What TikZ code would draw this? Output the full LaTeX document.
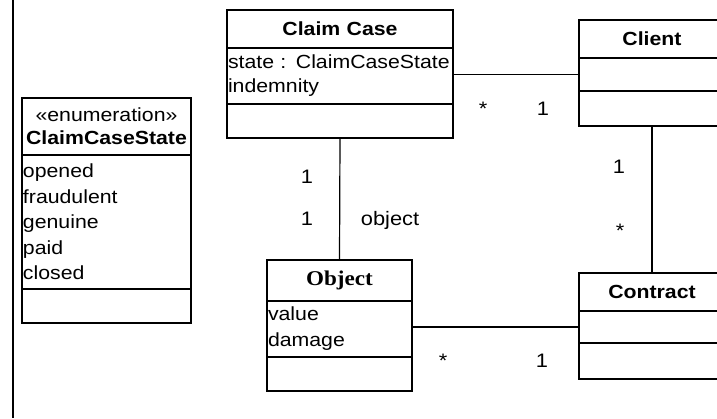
\documentclass[tikz,border=0pt]{standalone}
\usepackage{fontspec}
\setmainfont{Liberation Sans}[FakeStretch=1.12]
\newfontfamily\objfont{Liberation Serif}[FakeStretch=1.1]
\usetikzlibrary{positioning}

\begin{document}
\begin{tikzpicture}[x=1pt,y=-1pt,line width=1.2pt,
  box/.style={draw,outer sep=0pt,inner sep=1pt,anchor=north west},
  hdr/.style={box,font=\fontsize{19}{23}\selectfont\bfseries,align=center},
  attr/.style={box,font=\fontsize{19}{24}\selectfont,align=left},
  mult/.style={anchor=base,inner sep=0pt,font=\fontsize{19.5}{22}\selectfont}]
\useasboundingbox (0,0) rectangle (717,418);
\clip (0,0) rectangle (717,418);
\draw (13,0) -- (13,418);
% enumeration
\node[hdr,text width=167pt,minimum height=57pt] (stateH) at (22,98) {{\mdseries «enumeration»}\\ClaimCaseState};
\node[attr,text width=167pt,minimum height=134pt,font=\fontsize{19}{25.5}\selectfont] (stateA) at (stateH.south west) {opened\\fraudulent\\genuine\\paid\\closed};
\node[box,text width=167pt,minimum height=34pt] (stateO) at (stateA.south west) {};
% claim case
\node[hdr,text width=224pt,minimum height=38pt] (caseH) at (227,10) {Claim Case};
\node[attr,text width=224pt,minimum height=56pt] (caseA) at (caseH.south west) {state : ClaimCaseState\\indemnity};
\node[box,text width=224pt,minimum height=34pt] (caseO) at (caseA.south west) {};
% client
\node[hdr,text width=144pt,minimum height=38pt] (clientH) at (579,20) {Client};
\node[box,text width=144pt,minimum height=33pt] (clientA) at (clientH.south west) {};
\node[box,text width=144pt,minimum height=35pt] (clientO) at (clientA.south west) {};
% object
\node[hdr,text width=143pt,minimum height=41pt,font=\fontsize{21}{24}\selectfont\objfont\bfseries] (objH) at (267,260) {Object};
\node[attr,text width=143pt,minimum height=56pt,font=\fontsize{19}{26}\selectfont] (objA) at (objH.south west) {value\\damage};
\node[box,text width=143pt,minimum height=34pt] (objO) at (objA.south west) {};
% contract
\node[hdr,text width=144pt,minimum height=38pt] (contH) at (579,273) {Contract};
\node[box,text width=144pt,minimum height=32pt] (contA) at (contH.south west) {};
\node[box,text width=144pt,minimum height=36pt] (contO) at (contA.south west) {};
% associations
\draw (caseA.east |- clientA.west) -- (clientA.west);
\draw (caseO.south) -- (objH.north);
\draw (clientO.south) -- (contH.north);
\draw (objA.east |- contA.west) -- (contA.west);
\node[mult] (caseMany) at (483,115) {*};
\node[mult] (clientOne) at (543,115) {1};
\node[mult] (caseOne) at (307,183) {1};
\node[mult] (objOne) at (307,225) {1};
\node[mult] (objRole) at (390,225) {object};
\node[mult] (clientOne2) at (619,173) {1};
\node[mult] (contMany) at (620,237) {*};
\node[mult] (objMany) at (443,367) {*};
\node[mult] (contOne) at (542,367) {1};
\end{tikzpicture}
\end{document}
